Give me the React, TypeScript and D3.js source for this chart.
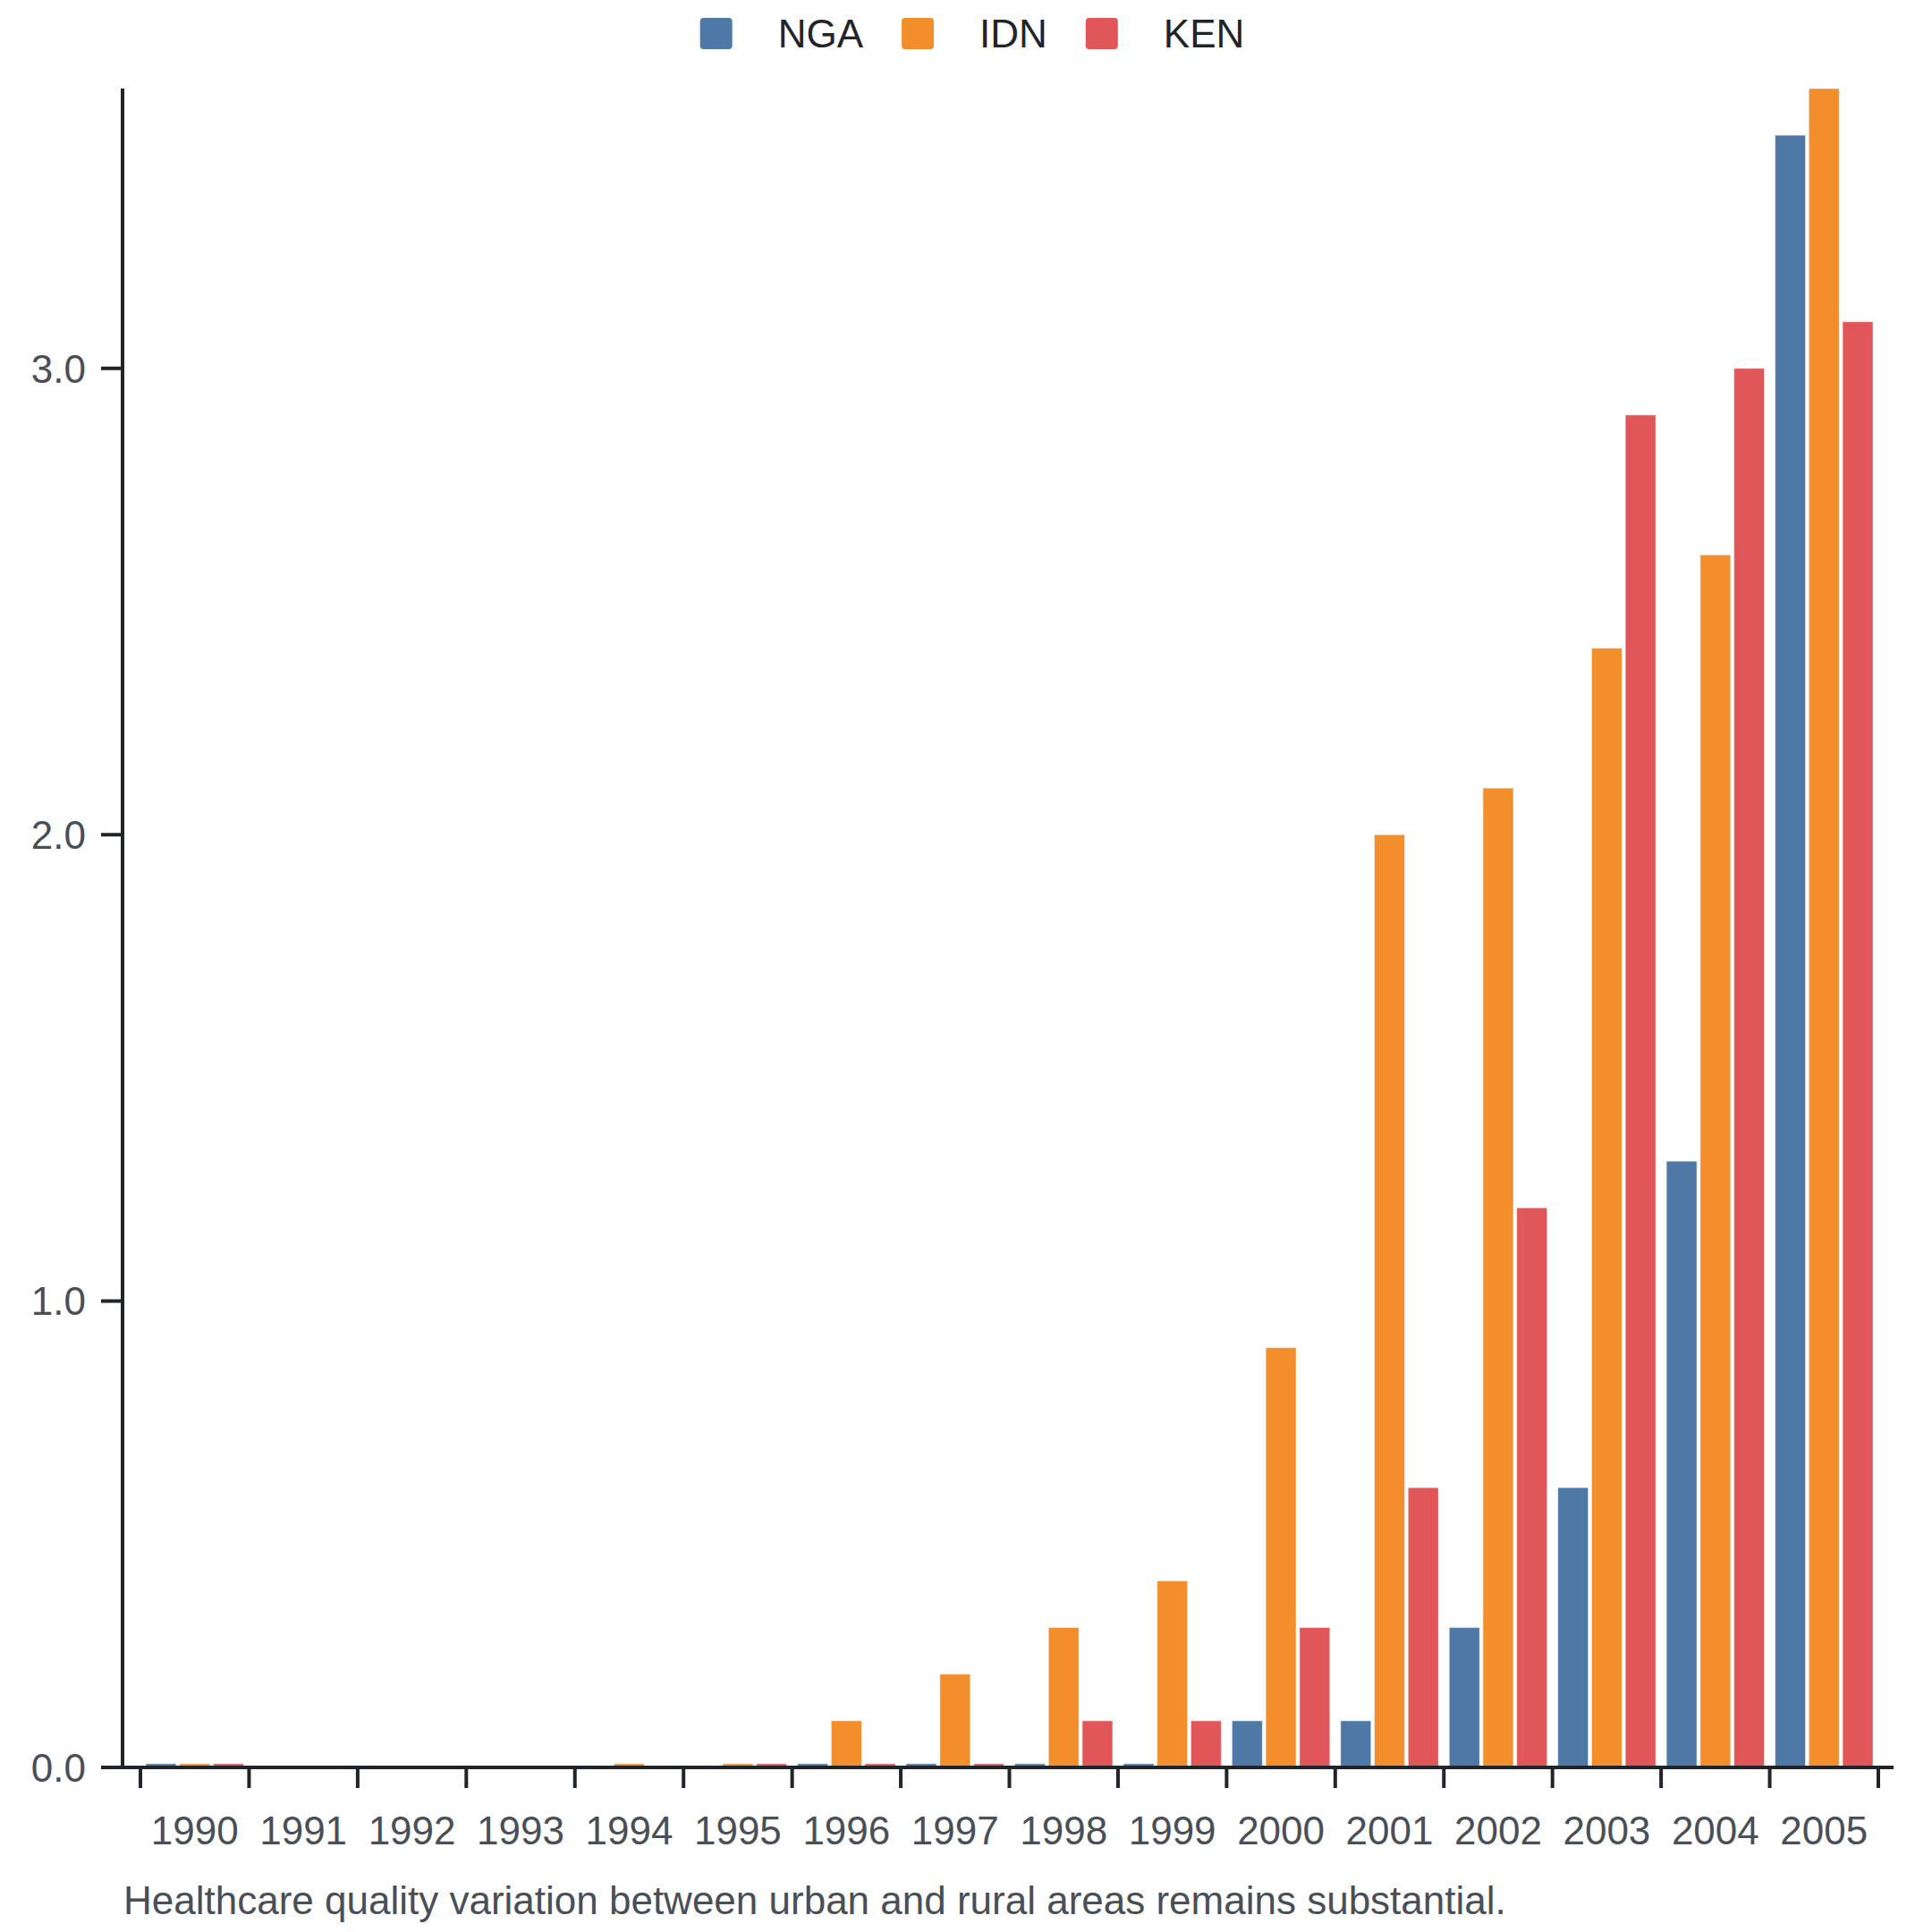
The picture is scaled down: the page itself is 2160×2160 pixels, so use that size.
import * as d3 from 'd3'
import { useEffect, useRef } from 'react'

const years = ['1990', '1991', '1992', '1993', '1994', '1995', '1996', '1997', '1998', '1999', '2000', '2001', '2002', '2003', '2004', '2005']
const seriesNames = ['NGA', 'IDN', 'KEN']
const ngaValues = [0.008, 0, 0, 0, 0, 0, 0.008, 0.008, 0.008, 0.008, 0.1, 0.1, 0.3, 0.6, 1.3, 3.5]
const idnValues = [0.008, 0, 0, 0, 0.008, 0.008, 0.1, 0.2, 0.3, 0.4, 0.9, 2.0, 2.1, 2.4, 2.6, 3.6]
const kenValues = [0.008, 0, 0, 0, 0, 0.008, 0.008, 0.008, 0.1, 0.1, 0.3, 0.6, 1.2, 2.9, 3.0, 3.1]
const yTicks = [0, 1, 2, 3]
const colors = ['#4e79a7', '#f28e2b', '#e15759']
const caption = 'Healthcare quality variation between urban and rural areas remains substantial.'

const W = 2160
const H = 2160
const FONT = 'Liberation Sans, Arial, sans-serif'
const AXIS = '#212529'
const LABEL = '#4a4f57'

export default function App() {
  const svgRef = useRef<SVGSVGElement | null>(null)

  useEffect(() => {
    if (!svgRef.current) return
    document.body.style.margin = '0'
    const svg = d3.select(svgRef.current)
    svg.selectAll('*').remove()

    const allValues = [ngaValues, idnValues, kenValues]
    const rows = years.map((year, i) => ({
      year,
      values: seriesNames.map((name, s) => ({ name, value: allValues[s][i] })),
    }))

    const left = 137
    const top = 99
    const bottom = 1976
    const bandStart = 157
    const bandEnd = 2100

    const x0 = d3.scaleBand().domain(years).range([bandStart, bandEnd]).paddingInner(0).paddingOuter(0)
    const edge = 6
    const x1 = d3
      .scaleBand()
      .domain(seriesNames)
      .range([edge, x0.bandwidth() - edge])
      .paddingInner(0.1)
      .paddingOuter(0)
    const color = d3.scaleOrdinal<string, string>().domain(seriesNames).range(colors)

    const maxVal = d3.max(allValues.flat()) || 1
    const y = d3.scaleLinear().domain([0, maxVal]).range([bottom, top])

    // bars
    const groups = svg
      .append('g')
      .selectAll('g')
      .data(rows)
      .join('g')
      .attr('transform', (d) => `translate(${x0(d.year)},0)`)

    groups
      .selectAll('rect')
      .data((d) => d.values.filter((v) => v.value > 0))
      .join('rect')
      .attr('x', (d) => x1(d.name) || 0)
      .attr('y', (d) => y(d.value))
      .attr('width', x1.bandwidth())
      .attr('height', (d) => bottom - y(d.value))
      .attr('fill', (d) => color(d.name))
      .attr('stroke', '#ffffff')
      .attr('stroke-opacity', 0.5)
      .attr('stroke-width', 1)

    // y axis
    const yAxis = svg.append('g')
    yAxis
      .append('line')
      .attr('x1', left)
      .attr('x2', left)
      .attr('y1', top)
      .attr('y2', bottom)
      .attr('stroke', AXIS)
      .attr('stroke-width', 4)
    yAxis
      .selectAll('line.tick')
      .data(yTicks)
      .join('line')
      .attr('class', 'tick')
      .attr('x1', left - 24)
      .attr('x2', left)
      .attr('y1', (d) => y(d))
      .attr('y2', (d) => y(d))
      .attr('stroke', AXIS)
      .attr('stroke-width', 4)
    yAxis
      .selectAll('text')
      .data(yTicks)
      .join('text')
      .attr('x', 96)
      .attr('y', (d) => y(d))
      .attr('dy', '0.36em')
      .attr('text-anchor', 'end')
      .attr('font-family', FONT)
      .attr('font-size', 44)
      .attr('fill', LABEL)
      .text((d) => d3.format('.1f')(d))

    // x axis
    const xAxis = svg.append('g')
    xAxis
      .append('line')
      .attr('x1', left - 24)
      .attr('x2', 2117)
      .attr('y1', bottom)
      .attr('y2', bottom)
      .attr('stroke', AXIS)
      .attr('stroke-width', 4)
    const boundaries = years.map((yr) => x0(yr) || 0).concat([(x0(years[years.length - 1]) || 0) + x0.bandwidth()])
    xAxis
      .selectAll('line.tick')
      .data(boundaries)
      .join('line')
      .attr('class', 'tick')
      .attr('x1', (d) => d)
      .attr('x2', (d) => d)
      .attr('y1', bottom)
      .attr('y2', bottom + 23)
      .attr('stroke', AXIS)
      .attr('stroke-width', 4)
    xAxis
      .selectAll('text')
      .data(years)
      .join('text')
      .attr('x', (d) => (x0(d) || 0) + x0.bandwidth() / 2)
      .attr('y', 2062)
      .attr('text-anchor', 'middle')
      .attr('font-family', FONT)
      .attr('font-size', 44)
      .attr('fill', LABEL)
      .text((d) => d)

    // caption
    svg
      .append('text')
      .attr('x', 138)
      .attr('y', 2140)
      .attr('font-family', FONT)
      .attr('font-size', 44)
      .attr('fill', LABEL)
      .text(caption)

    // legend
    const legend = svg.append('g')
    let cursor = 0
    seriesNames.forEach((name) => {
      const item = legend.append('g').attr('transform', `translate(${cursor},0)`)
      item
        .append('rect')
        .attr('x', 0)
        .attr('y', 20)
        .attr('width', 36)
        .attr('height', 35)
        .attr('rx', 4)
        .attr('fill', color(name))
      const label = item
        .append('text')
        .attr('x', 87)
        .attr('y', 53)
        .attr('font-family', FONT)
        .attr('font-size', 44)
        .attr('fill', AXIS)
        .text(name)
      const tw = (label.node() as SVGTextElement).getComputedTextLength()
      cursor += 87 + tw + 43
    })
    const legendWidth = cursor - 43
    legend.attr('transform', `translate(${1087 - legendWidth / 2},0)`)
  }, [])

  return (
    <div style={{ width: W, height: H, background: '#ffffff' }}>
      <svg ref={svgRef} width={W} height={H} style={{ display: 'block' }} />
    </div>
  )
}
